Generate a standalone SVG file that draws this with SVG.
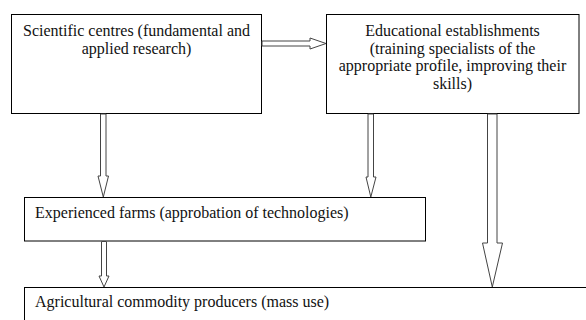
<svg xmlns="http://www.w3.org/2000/svg" width="586" height="320" viewBox="0 0 586 320">
<style>
.box{fill:#fff;stroke:#000;stroke-width:1}
.t{font-family:'Liberation Serif','Times New Roman','DejaVu Serif',serif;font-size:16px;fill:#111}
.c{text-anchor:middle}
.arr{fill:#fff;stroke:#444;stroke-width:1;stroke-linejoin:miter}
</style>
<rect width="586" height="320" fill="#fff"/>
<g id="node-science" font-family="Liberation Serif, serif">
<rect class="box" x="11.5" y="14.5" width="250" height="99"/>
<text class="t c" x="136.5" y="36">Scientific centres (fundamental and</text>
<text class="t c" x="136.5" y="53.5">applied research)</text>
</g>
<g id="node-education">
<rect class="box" x="326.5" y="14.5" width="252.5" height="99"/>
<text class="t c" x="452.5" y="36">Educational establishments</text>
<text class="t c" x="452.5" y="53.5">(training specialists of the</text>
<text class="t c" x="452.5" y="71">appropriate profile, improving their</text>
<text class="t c" x="452.5" y="88.5">skills)</text>
</g>
<g id="node-farms">
<rect class="box" x="24.5" y="197.5" width="401" height="43.5"/>
<text class="t" x="35" y="218">Experienced farms (approbation of technologies)</text>
</g>
<g id="node-producers">
<rect class="box" x="24.5" y="287.5" width="600" height="60"/>
<text class="t" x="35" y="306.5">Agricultural commodity producers (mass use)</text>
</g>
<g id="connectors">
<polygon class="arr" points="262,41 310,41 310,38 326,43.5 310,49 310,46 262,46"/>
<polygon class="arr" points="100.5,114 106,114 106,176 108.5,176 103.3,197 98,176 100.5,176"/>
<polygon class="arr" points="368,114 373.5,114 373.5,177 376,177 370.8,197 366,177 368,177"/>
<polygon class="arr" points="487.5,114 497,114 497,243 502.5,243 492.3,287 482.5,243 487.5,243"/>
<polygon class="arr" points="101.5,241.5 106.5,241.5 106.5,276 109,276 104,287 99,276 101.5,276"/>
</g>
</svg>
